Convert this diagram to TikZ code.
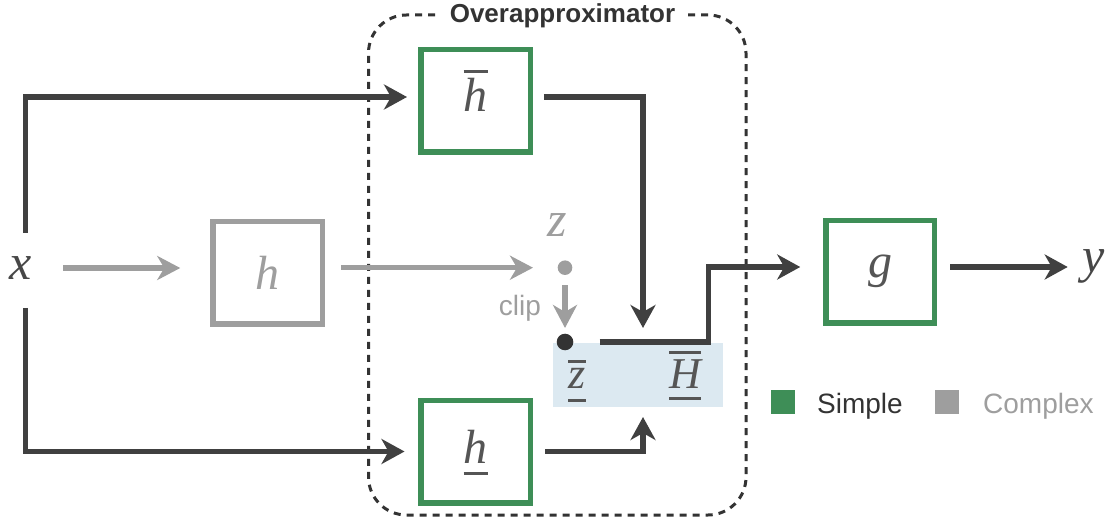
\documentclass[tikz,border=0pt]{standalone}
\usepackage{fontspec}
\newfontfamily\lsans{Liberation Sans}
\newfontfamily\mserif{Liberation Serif}
\usetikzlibrary{arrows.meta}
\definecolor{dk}{HTML}{404040}
\definecolor{grn}{HTML}{3E8E57}
\definecolor{gry}{HTML}{9E9E9E}
\definecolor{mtx}{HTML}{555555}
\definecolor{xcol}{HTML}{474747}
\definecolor{blu}{HTML}{DCE9F1}
\definecolor{dsh}{HTML}{333333}
\definecolor{txt}{HTML}{333333}
\newcommand\myobar[2]{\vbox{\hrule height 2.5pt\kern #1\hbox{#2}}}
\newcommand\myubar[2]{\vtop{\hbox{#2}\kern #1\hrule height 2.5pt}}
\newcommand\myoubar[3]{\vtop{\vbox{\hrule height 2.5pt\kern #1\hbox{#3}}\kern #2\hrule height 2.5pt}}
\begin{document}
\begin{tikzpicture}[x=1pt,y=1pt,
  box/.style={draw, line width=5.5pt, minimum width=109.5pt, minimum height=102.5pt, inner sep=0pt, text depth=0pt, font=\mserif\itshape\fontsize{48}{52}\selectfont},
  simplebox/.style={box, draw=grn, text=mtx},
  complexbox/.style={box, draw=gry, text=gry},
  darr/.style={draw=dk, line width=5.5pt, line join=miter, -{Stealth[length=23pt,width=25pt,inset=7pt]}},
  garr/.style={draw=gry, line width=5.5pt, -{Stealth[length=23pt,width=24pt,inset=7pt]}},
  mathl/.style={inner sep=0pt, font=\mserif\itshape\fontsize{50}{54}\selectfont},
  smath/.style={inner sep=0pt, font=\mserif\itshape\fontsize{44}{48}\selectfont},
  sans/.style={inner sep=0pt, font=\lsans\fontsize{28}{32}\selectfont},
]
\useasboundingbox (0,0) rectangle (1114,520);

% overapproximator frame
\node[draw=dsh, line width=3pt, dash pattern=on 7pt off 6pt, rounded corners=38pt,
      minimum width=377.5pt, minimum height=500pt, inner sep=0pt] (ov) at (557.25,255) {};
\node[fill=white, inner xsep=13pt, inner ysep=4pt, anchor=base, text=txt,
      font=\lsans\bfseries\fontsize{26}{30}\selectfont] (ovl) at (562.5,497) {Overapproximator};

% blue region
\node[fill=blu, minimum width=170pt, minimum height=64pt, inner sep=0pt, anchor=south west] (hreg) at (553,113) {};

% boxes
\node[complexbox, text height=34pt] (h) at (267.5,247) {h};
\node[simplebox, text height=22pt] (hbar) at (475.5,419) {\myobar{6pt}{h}};
\node[simplebox, text height=23pt] (hlow) at (475.5,68.5) {\myubar{9pt}{h}};
\node[simplebox, minimum width=108.5pt, text height=12pt] (g) at (880,248) {g};

% labels
\node[mathl, text=xcol, anchor=base] (x) at (20.5,240) {x};
\node[mathl, text=xcol, anchor=base] (y) at (1094,247) {y};
\node[mathl, text=gry] (zl) at (557,295) {z};
\node[sans, text=gry] (clip) at (520,212) {clip};
\node[smath, text=mtx] (zbar) at (577,139) {\myoubar{5pt}{11pt}{z}};
\node[smath, text=mtx] (Hbar) at (685,144.5) {\myoubar{6pt}{9pt}{H}};

% dots
\node[circle, fill=gry, minimum size=14.6pt, inner sep=0pt] (zdot) at (565,252.3) {};
\node[circle, fill=dsh, minimum size=16.6pt, inner sep=0pt] (zb) at (565,178) {};

% coordinates
\coordinate (xtop) at (25.5,287);
\coordinate (xbot) at (25.5,212);
\coordinate (xr) at (63,252);
\coordinate (mt) at (643,178);
\coordinate (mb) at (643,113);
\coordinate (hc) at (708.7,178);

% connectors
\draw[darr, shorten >=11pt] (xtop) |- ([yshift=4pt]hbar.west);
\draw[darr, shorten >=13.5pt] (xbot) |- (hlow.west);
\draw[garr, shorten >=29.75pt] (xr) -- (xr -| h.west);
\draw[garr, shorten <=16pt, shorten >=32pt] (h.east |- zdot) -- (zdot.center);
\draw[garr, shorten <=10pt, shorten >=5.5pt] (zdot) -- (zb);
\draw[darr, shorten <=10.75pt, shorten >=14pt] ([yshift=4pt]hbar.east) -| (mt);
\draw[darr, shorten <=12pt, shorten >=10pt] (hlow.east) -| (mb);
\draw[darr, shorten <=13pt, shorten >=22.75pt] ([xshift=13pt]zb.east) -- (hc) |- ([yshift=5pt]g.west);
\draw[darr, shorten <=13pt, shorten >=15pt] ([yshift=5pt]g.east) -- ([yshift=5pt]g.east -| y.west);

% legend
\node[fill=grn, minimum size=24pt, inner sep=0pt] (ls) at (783,118) {};
\node[sans, anchor=base west, text=txt] (lst) at (817,107) {Simple};
\node[fill=gry, minimum size=24pt, inner sep=0pt] (lc) at (946.5,118) {};
\node[sans, anchor=base west, text=gry] (lct) at (983,107) {Complex};
\end{tikzpicture}
\end{document}
